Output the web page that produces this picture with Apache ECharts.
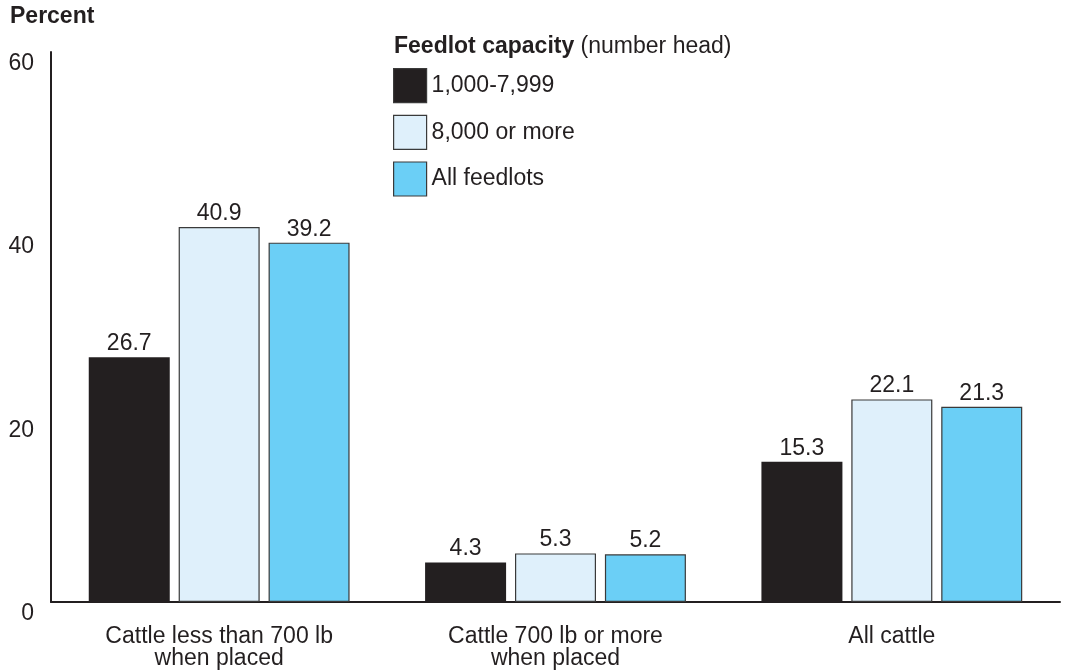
<!DOCTYPE html>
<html><head><meta charset="utf-8">
<script src="https://cdn.jsdelivr.net/npm/echarts@6/dist/echarts.min.js"></script>
<style>html,body{margin:0;padding:0;background:#fff}#c{width:1066px;height:671px}</style>
</head><body><div id="c"></div>
<script>
const categories = ['Cattle less than 700 lb\nwhen placed', 'Cattle 700 lb or more\nwhen placed', 'All cattle'];
const seriesNames = ['1,000-7,999', '8,000 or more', 'All feedlots'];
const smallLots = [26.7, 4.3, 15.3];
const largeLots = [40.9, 5.3, 22.1];
const allLots = [39.2, 5.2, 21.3];
const yTicks = [0, 20, 40, 60];

const colors = ['#231f20', '#dff0fb', '#6bcff6'];
const font = 'Liberation Sans, Arial, Helvetica, sans-serif';
const FS = 23;
const chart = echarts.init(document.getElementById('c'));
const mk = (name, data, i) => ({
  name, type: 'bar', data,
  barWidth: 81, barGap: '11%',
  itemStyle: { color: colors[i], borderColor: '#3a3a3a', borderWidth: i === 0 ? 0 : 1.2 },
  label: { show: true, position: 'top', distance: 2, fontSize: FS, color: '#231f20', fontFamily: font, formatter: p => p.value.toFixed(1) },
  emphasis: { disabled: true }
});
chart.setOption({
  animation: false,
  textStyle: { fontFamily: font },
  graphic: [
    { type: 'text', left: 10, top: 5, style: { text: 'Percent', font: 'bold 23px ' + font, fill: '#231f20' } },
    { type: 'text', left: 394, top: 35, style: { text: '{b|Feedlot capacity} (number head)', font: FS + 'px ' + font, fill: '#231f20',
      rich: { b: { fontWeight: 'bold', fontSize: FS, fontFamily: font, fill: '#231f20' } } } }
  ],
  legend: {
    orient: 'vertical', left: 393, top: 68, padding: 0,
    icon: 'rect',
    itemWidth: 33, itemHeight: 34, itemGap: 11.5,
    itemStyle: { borderColor: '#3a3a3a', borderWidth: 1.2 },
    textStyle: { fontSize: FS, color: '#231f20', fontFamily: font },
    data: seriesNames
  },
  grid: { left: 51, right: 6, top: 52, bottom: 69, containLabel: false },
  xAxis: {
    type: 'category', data: categories,
    axisLine: { lineStyle: { color: '#231f20', width: 2 } },
    axisTick: { show: false },
    axisLabel: { fontSize: FS, color: '#231f20', margin: 24, lineHeight: 22, fontFamily: font }
  },
  yAxis: {
    type: 'value', min: 0, max: 60, interval: 20,
    axisLine: { show: true, lineStyle: { color: '#231f20', width: 2 } },
    axisTick: { show: false },
    splitLine: { show: false },
    axisLabel: { fontSize: FS, color: '#231f20', margin: 17, verticalAlign: 'top', fontFamily: font,
      formatter: v => yTicks.includes(v) ? String(v) : '' }
  },
  series: [mk(seriesNames[0], smallLots, 0), mk(seriesNames[1], largeLots, 1), mk(seriesNames[2], allLots, 2)]
});
</script></body></html>
